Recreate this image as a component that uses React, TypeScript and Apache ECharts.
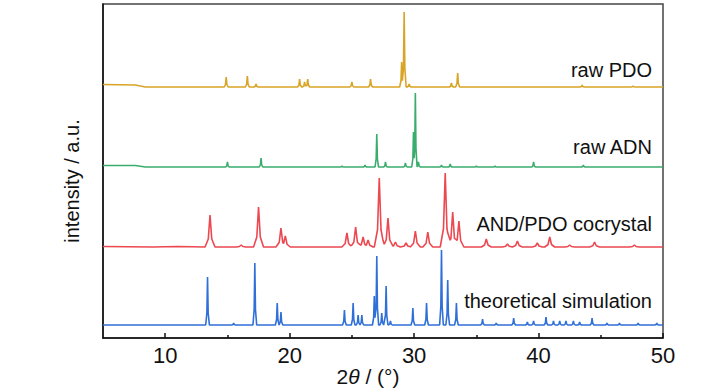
import React, { useEffect, useRef } from "react";
import * as echarts from "echarts";

// ---- axis ----
const THETA_MIN = 5;
const THETA_MAX = 50;
const majorTicks = [10, 20, 30, 40, 50];
const minorTicks = [15, 25, 35, 45];
const INTENSITY_MAX = 334;

// ---- series (bottom to top) ----
const seriesNames = ["theoretical simulation", "AND/PDO cocrystal", "raw ADN", "raw PDO"];
const offsets = [13, 91, 171, 251];
const colors = ["#2f6fd8", "#ec4850", "#3aac6c", "#d9a425"];
const peakHalfWidths = [0.15, 0.4, 0.14, 0.16];

// peaks: [2θ, height above baseline]
const simPeaks = [
  [13.4, 48], [15.5, 2], [17.2, 62], [19.0, 22], [19.3, 13], [24.4, 15], [25.1, 22],
  [25.5, 10], [25.8, 10], [26.8, 29], [27.0, 69], [27.4, 12], [27.75, 39], [28.1, 4],
  [29.9, 17], [31.0, 22], [32.2, 75], [32.7, 45], [33.4, 22], [35.5, 6], [36.6, 2],
  [38.0, 7], [39.1, 3], [39.6, 4], [40.6, 8], [41.2, 4], [41.7, 4], [42.2, 4],
  [42.8, 4], [43.3, 3], [44.3, 7], [45.5, 2], [46.5, 2], [48.0, 2], [49.5, 2],
];
const cocrystalPeaks = [
  [13.6, 32], [16.1, 2], [17.5, 40], [19.3, 19], [19.65, 11], [24.6, 14], [25.3, 20],
  [25.9, 10], [26.3, 7], [27.2, 69], [27.9, 29], [28.5, 5], [29.35, 4], [30.1, 16],
  [31.1, 15], [32.5, 74], [33.1, 35], [33.6, 26], [35.8, 8], [37.5, 3], [38.3, 6],
  [39.9, 4], [40.9, 10], [42.5, 2], [44.5, 5], [47.7, 2],
];
const adnPeaks = [
  [15.0, 5], [17.7, 9], [24.2, 1], [26.05, 2], [27.0, 33], [27.7, 5], [29.3, 4],
  [29.95, 35], [30.1, 74], [30.35, 5], [32.2, 2], [32.9, 3], [35.0, 1], [36.5, 1],
  [39.6, 5], [43.6, 2],
];
const pdoPeaks = [
  [14.9, 10], [16.6, 11], [17.3, 3], [20.8, 8], [21.2, 5], [21.45, 8], [25.0, 5],
  [26.5, 8], [29.0, 25], [29.2, 75], [29.6, 3], [33.0, 4], [33.5, 14], [43.5, 2],
  [47.6, 1],
];
const allPeaks = [simPeaks, cocrystalPeaks, adnPeaks, pdoPeaks];

// low-angle background: [2θ, height above baseline]
const simBackground = [[5, 0]];
const cocrystalBackground = [[5, 0.5], [9, 0], [11, 0.5]];
const adnBackground = [[5, 1.5], [7.6, 1.5], [8.4, 0]];
const pdoBackground = [[5, 2.5], [7.6, 2], [8.4, 0]];
const allBackgrounds = [simBackground, cocrystalBackground, adnBackground, pdoBackground];

function buildLine(peaks: number[][], background: number[][], hw: number, offset: number) {
  const shoulder = 0.35;
  const shoulderFrac = 0.25;
  const profile = (x: number) => {
    let best = 0;
    for (const [p, h] of peaks) {
      const d = Math.abs(x - p);
      if (d > hw) continue;
      let y;
      if (d <= shoulder * hw) y = h - (h - shoulderFrac * h) * (d / (shoulder * hw));
      else y = shoulderFrac * h * (hw - d) / ((1 - shoulder) * hw);
      if (y > best) best = y;
    }
    return best;
  };
  const xs: number[] = [];
  for (const [p] of peaks) {
    xs.push(p - hw, p - shoulder * hw, p, p + shoulder * hw, p + hw);
  }
  xs.sort((a, b) => a - b);
  const pts: number[][] = background.map(([x, y]) => [x, y + offset]);
  for (const x of xs) pts.push([x, profile(x) + offset]);
  pts.push([THETA_MAX, offset]);
  return pts;
}

const labelRightX = 652;
const labelYs = [301, 224, 147, 70];

export default function App() {
  const ref = useRef<HTMLDivElement>(null);
  useEffect(() => {
    document.body.style.margin = "0";
    if (!ref.current) return;
    const chart = echarts.init(ref.current, null, { renderer: "svg" });
    const series = seriesNames.map((name, i) => ({
      name,
      type: "line",
      xAxisIndex: 0,
      yAxisIndex: 0,
      data: buildLine(allPeaks[i], allBackgrounds[i], peakHalfWidths[i], offsets[i]),
      showSymbol: false,
      symbol: "none",
      lineStyle: { color: colors[i], width: 1.6 },
      itemStyle: { color: colors[i] },
      z: 2 + i,
    }));
    const textFont = "'Liberation Sans', Arial, sans-serif";
    chart.setOption({
      animation: false,
      backgroundColor: "#ffffff",
      grid: {
        left: 103,
        right: 65,
        top: 4,
        bottom: 52,
        show: true,
        borderColor: "#444",
        borderWidth: 1.5,
        backgroundColor: "transparent",
      },
      xAxis: [
        {
          type: "value",
          min: THETA_MIN,
          max: THETA_MAX,
          position: "bottom",
          axisLine: { show: true, onZero: false, lineStyle: { color: "#111", width: 1.5 } },
          axisTick: { show: true, inside: true, length: 5, customValues: majorTicks, lineStyle: { color: "#111", width: 1.5 } },
          axisLabel: {
            show: true,
            customValues: majorTicks,
            margin: 6,
            color: "#111",
            fontSize: 22,
            fontFamily: "'Liberation Sans Narrow', 'Liberation Sans', Arial, sans-serif",
          },
          splitLine: { show: false },
        },
        {
          type: "value",
          min: THETA_MIN,
          max: THETA_MAX,
          position: "bottom",
          axisLine: { show: false },
          axisTick: { show: true, inside: true, length: 3, customValues: minorTicks, lineStyle: { color: "#111", width: 1.5 } },
          axisLabel: { show: false },
          splitLine: { show: false },
        },
      ],
      yAxis: {
        type: "value",
        min: 0,
        max: INTENSITY_MAX,
        axisLine: { show: true, onZero: false, lineStyle: { color: "#111", width: 1.5 } },
        axisTick: { show: false },
        axisLabel: { show: false },
        splitLine: { show: false },
      },
      series,
      graphic: [
        ...seriesNames.map((name, i) => ({
          type: "text",
          x: labelRightX,
          y: labelYs[i],
          z: 100,
          style: {
            text: name,
            align: "right",
            verticalAlign: "middle",
            fontSize: 20,
            fontFamily: textFont,
            fill: "#111",
          },
        })),
        {
          type: "text",
          x: 72,
          y: 181,
          rotation: Math.PI / 2,
          style: {
            text: "intensity / a.u.",
            align: "center",
            verticalAlign: "middle",
            fontSize: 20,
            fontFamily: textFont,
            fill: "#111",
          },
        },
        {
          type: "text",
          x: 368,
          y: 376,
          style: {
            text: "{a|2}{b|θ}{a| / (°)}",
            align: "center",
            verticalAlign: "middle",
            rich: {
              a: { fontSize: 21, fontFamily: textFont, fill: "#111" },
              b: { fontSize: 21, fontFamily: textFont, fontStyle: "italic", fill: "#111" },
            },
          },
        },
      ],
    });
    return () => chart.dispose();
  }, []);
  return <div ref={ref} style={{ width: 728, height: 390 }} />;
}
